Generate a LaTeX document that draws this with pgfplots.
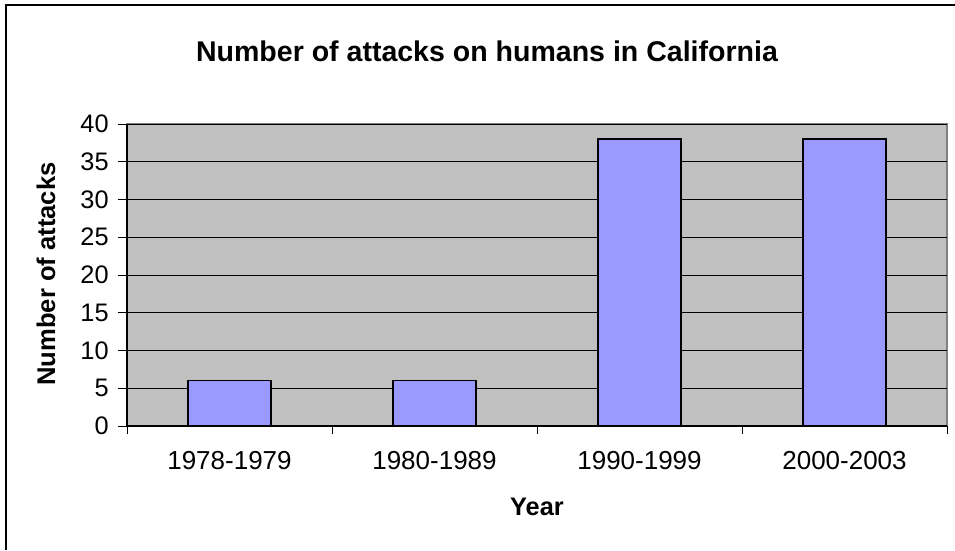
\documentclass[border=0pt]{standalone}
\usepackage{pgfplots}
\pgfplotsset{compat=1.18}
\usepackage{fontspec}
\setmainfont{Liberation Sans}
\definecolor{plotbg}{HTML}{C0C0C0}
\definecolor{barfill}{HTML}{9999FF}
\definecolor{framegray}{HTML}{808080}
\begin{document}
\begin{tikzpicture}[x=0.75pt,y=0.75pt]
\useasboundingbox (0,0) rectangle (955,550);
\draw[line width=1.5pt] (6,0) -- (6,545) -- (955,545);
\node[anchor=base,font=\fontsize{21.4pt}{24pt}\selectfont\bfseries] at (487,488) {Number of attacks on humans in California};
\node[anchor=base,font=\fontsize{19pt}{22pt}\selectfont\bfseries] at (537,35) {Year};
\node[anchor=base,rotate=90,font=\fontsize{19.2pt}{22pt}\selectfont\bfseries] at (55,276) {Number of attacks};
\begin{axis}[
  at={(95.25pt,93pt)}, anchor=south west,
  width=615pt, height=226.5pt, scale only axis,
  axis lines=left, axis line style={-, black, line width=0.9pt},
  axis background/.style={fill=plotbg, draw=framegray, line width=1.2pt},
  xmin=-0.5, xmax=3.5, ymin=0, ymax=40,
  xtick={0,1,2,3},
  xticklabels={1978-1979,1980-1989,1990-1999,2000-2003},
  minor xtick={-0.5,0.5,1.5,2.5,3.5},
  major x tick style={draw=none},
  ytick={0,5,...,40},
  tick align=outside,
  major tick length=6.75pt, minor tick length=6pt,
  tick style={black, line width=0.75pt},
  ymajorgrids, grid style={black, line width=0.7pt},
  /pgf/number format/assume math mode=true,
  xticklabel style={font=\fontsize{19.5pt}{22pt}\selectfont, anchor=base, yshift=-26pt},
  yticklabel style={font=\fontsize{19pt}{22pt}\selectfont, anchor=east, xshift=-3.5pt},
  ybar, bar width=62.25pt,
  clip=false,
]
\addplot[fill=barfill, draw=black, line width=1.1pt] coordinates {(0,6) (1,6) (2,38) (3,38)};
\end{axis}
\end{tikzpicture}
\end{document}
